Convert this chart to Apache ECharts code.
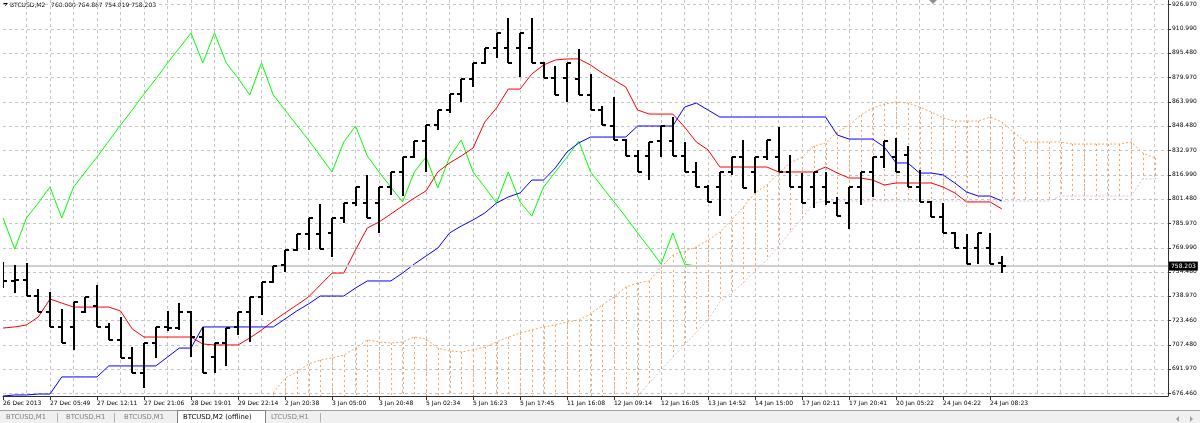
<!DOCTYPE html>
<html><head><meta charset="utf-8">
<script src="https://cdn.jsdelivr.net/npm/echarts@6/dist/echarts.min.js"></script>
<style>html,body{margin:0;padding:0;background:#fff}#c{width:1200px;height:423px}</style>
</head><body><div id="c"></div>
<script>
const symbolName = 'BTCUSD,M2';
const lastOHLC = [760.000, 764.867, 754.019, 758.203];

const barOpen = [755.7,748.6,749.2,738.9,728.6,719.0,719.0,728.6,732.5,719.0,
710.6,699.0,689.3,708.7,719.0,718.3,728.6,712.5,699.6,708.7,
719.0,728.6,738.3,747.9,758.9,768.6,778.9,778.9,779.5,789.2,
798.8,798.8,798.8,809.1,818.8,828.4,838.7,849.0,858.7,869.0,
878.7,889.0,898.6,898.6,898.6,898.6,889.0,879.3,879.3,878.7,
868.4,858.7,848.4,839.4,829.1,829.1,838.7,838.7,829.1,818.8,
809.1,809.1,818.8,828.4,818.8,828.4,828.4,818.8,809.1,809.1,
809.1,798.8,798.8,809.1,818.8,828.4,828.4,829.7,809.1,799.5,
789.8,779.5,769.8,769.8,769.8,760.000];
const barHigh = [760.8,759.0,760.2,743.4,741.5,730.6,735.1,738.3,746.0,721.5,
725.4,706.1,708.7,719.0,729.3,734.4,729.3,719.0,708.7,718.3,
728.6,738.3,747.9,758.3,768.6,778.9,789.2,798.2,789.2,798.8,
809.1,816.9,809.1,818.8,828.4,838.7,849.0,858.7,869.0,878.7,
889.0,898.6,908.3,918.0,908.3,918.0,889.6,887.0,889.0,898.0,
881.9,861.3,867.1,840.0,833.0,838.1,848.4,854.2,838.1,825.2,
810.4,818.8,828.4,839.4,828.4,839.4,847.8,829.7,818.1,818.8,
818.8,802.7,809.1,818.8,828.4,838.7,840.7,835.5,820.1,800.1,
798.8,780.1,778.9,779.5,779.5,764.867];
const barLow = [744.1,740.9,738.9,728.6,719.0,708.7,704.2,728.0,719.0,710.6,
699.0,689.3,679.7,699.0,716.4,717.0,699.6,689.3,689.3,693.9,
713.8,709.3,726.7,747.3,754.4,767.9,768.6,769.2,764.0,785.9,
796.9,789.2,779.5,804.0,803.3,827.8,818.8,845.8,856.8,863.9,
873.5,888.3,892.2,889.0,880.0,889.0,879.3,868.4,863.9,868.4,
858.7,849.0,839.4,829.1,818.8,813.6,828.4,829.1,818.8,809.1,
799.5,790.4,816.9,808.5,805.3,826.5,818.8,809.1,798.8,795.6,
797.5,790.4,782.1,797.5,802.7,821.4,818.8,809.1,799.5,789.8,
779.5,769.8,759.5,759.5,759.5,754.019];
const barClose = [748.6,749.2,738.9,728.6,719.0,708.7,735.1,738.3,719.0,710.6,
699.0,689.3,708.7,719.0,718.3,728.6,712.5,689.3,708.7,718.3,
728.6,738.3,747.9,758.3,768.6,778.9,789.2,769.2,789.2,798.8,
809.1,789.2,809.1,818.8,828.4,838.7,849.0,858.7,869.0,878.7,
889.0,898.6,908.3,889.0,908.3,889.0,879.3,868.4,889.0,868.4,
858.7,849.0,839.4,829.1,818.8,838.1,848.4,829.1,818.8,809.1,
799.5,818.8,828.4,808.5,828.4,839.4,818.8,809.1,798.8,818.8,
799.5,790.4,809.1,818.8,828.4,838.7,818.8,809.1,799.5,789.8,
779.5,769.8,759.5,779.5,759.5,758.203];

const tenkan = [718.3,719.0,720.3,725.4,737.0,734.4,731.8,731.8,731.8,731.8,
729.3,717.7,712.5,712.5,712.5,712.5,712.5,708.0,707.4,707.4,
707.4,711.9,717.0,722.8,728.0,733.1,738.3,746.0,753.7,753.7,
768.6,782.7,786.6,791.7,796.9,802.0,806.6,818.8,824.6,829.1,
834.2,851.0,860.0,872.2,872.2,881.9,887.7,890.9,891.6,891.6,
887.7,882.5,878.0,873.5,858.7,856.1,856.1,856.1,847.8,838.1,
833.0,822.0,822.0,822.0,822.0,822.0,818.8,818.8,818.8,818.8,
822.0,818.1,814.9,814.9,813.6,810.4,811.7,811.7,811.7,811.7,
809.1,805.3,799.5,799.5,799.5,795.0];
const kijun = [674.5,675.2,675.2,675.8,675.8,686.8,686.8,686.8,686.8,693.9,
693.9,693.9,693.9,693.9,699.6,705.4,705.4,719.0,719.0,719.0,
719.0,719.0,719.0,719.0,724.1,729.3,733.8,738.9,738.9,738.9,
744.1,748.6,748.6,748.6,753.7,759.5,764.7,769.8,779.5,784.0,
787.9,792.4,798.8,802.7,805.3,813.6,813.6,821.4,831.7,837.5,
841.3,841.3,841.3,841.3,848.4,848.4,848.4,848.4,860.6,863.2,
858.7,854.2,854.2,854.2,854.2,854.2,854.2,854.2,854.2,854.2,
854.2,842.6,840.0,840.0,840.0,834.9,824.6,824.6,818.1,818.1,
816.9,811.7,805.9,803.3,803.3,800.1];
const chikou = [789.2,769.2,789.2,798.8,809.1,789.2,809.1,818.8,828.4,838.7,
849.0,858.7,869.0,878.7,889.0,898.6,908.3,889.0,908.3,889.0,
879.3,868.4,889.0,868.4,858.7,849.0,839.4,829.1,818.8,838.1,
848.4,829.1,818.8,809.1,799.5,818.8,828.4,808.5,828.4,839.4,
818.8,809.1,798.8,818.8,799.5,790.4,809.1,818.8,828.4,838.7,
818.8,809.1,799.5,789.8,779.5,769.8,759.5,779.5,759.5,758.2];
const spanA = [null,null,null,null,null,null,null,null,null,null,
null,null,null,null,null,null,null,null,null,null,
null,null,null,676.5,686.1,690.0,695.1,697.7,699.0,700.9,
705.4,710.6,709.3,708.7,709.3,712.5,711.2,705.4,703.5,702.9,
704.2,706.1,709.3,712.5,715.1,717.0,719.0,720.3,722.2,723.5,
727.3,733.1,738.3,744.7,747.3,748.6,757.6,765.3,767.9,770.5,
775.0,780.1,787.9,796.2,805.3,810.4,818.1,824.6,828.4,835.5,
837.5,844.5,849.0,855.5,860.0,862.6,863.9,863.2,860.6,857.4,
853.6,851.6,851.6,851.6,854.2,851.0,844.5,838.1,838.1,838.1,
838.1,836.8,836.8,836.8,836.8,836.8,838.1,831.0,827.8];
const spanB = [null,null,null,null,null,null,null,null,null,null,
null,null,null,null,null,null,null,null,null,null,
null,null,null,null,null,null,null,null,null,null,
null,null,null,null,null,null,null,null,null,null,
null,null,null,null,null,null,null,null,null,null,
null,null,null,null,674.5,682.9,691.3,699.6,707.4,715.7,
723.5,735.1,740.9,747.3,755.0,762.1,771.1,780.1,789.2,798.8,
800.1,800.1,800.1,800.1,800.1,800.1,800.1,800.1,800.1,800.1,
800.1,800.1,800.1,800.1,800.1,800.1,800.1,800.1,800.1,800.1,
803.3,803.3,803.3,803.3,803.3,803.3,803.3,814.3,814.3];

const yTickValues = [676.46,691.97,707.48,723.46,738.97,754.48,769.99,785.97,801.48,816.99,832.97,848.48,863.99,879.97,895.48,910.99,926.97];
const xTickBars = [0,4,8,12,16,20,24,28,32,36,40,44,48,52,56,60,64,68,72,76,80,84];
const xTickLabels = ['26 Dec 2013','27 Dec 05:49','27 Dec 12:11','27 Dec 21:06','28 Dec 19:01','29 Dec 22:14','2 Jan 20:38','3 Jan 05:00','3 Jan 20:48','5 Jan 02:34','5 Jan 16:23','5 Jan 17:45','11 Jan 16:08','12 Jan 09:14','12 Jan 16:05','13 Jan 14:52','14 Jan 15:00','17 Jan 02:11','17 Jan 20:41','20 Jan 05:22','24 Jan 04:22','24 Jan 08:23'];
const tabNames = ['BTCUSD,M1','BTCUSD,H1','BTCUSD,M1','BTCUSD,M2 (offline)','LTCUSD,H1'];
const activeTab = 3;

const Y_MIN = 674.53, Y_MAX = 929.55, X_MIN = 0, X_MAX = 99.14;
const FONT = 'DejaVu Sans';
const gridBars = []; for (let i = 2; i <= 98; i += 2) gridBars.push(i);
const pairs = arr => arr.map((v, i) => [i, v]);

const ohlcData = barOpen.map((o, i) => [i, o, barHigh[i], barLow[i], barClose[i]]);
const hatchData = [];
spanA.forEach((a, i) => { if (a != null) hatchData.push([i, a, spanB[i] == null ? Y_MIN : spanB[i]]); });

function hatchRender(params, api) {
  const i = api.value(0);
  const pa = api.coord([i, api.value(1)]);
  const pb = api.coord([i, api.value(2)]);
  const x = Math.round(pa[0]) + 0.5;
  const col = api.value(1) >= api.value(2) ? '#F4A460' : '#D8BFD8';
  return { type: 'line', shape: { x1: x, y1: pa[1], x2: x, y2: pb[1] },
    style: { stroke: col, lineWidth: 1, lineDash: [2, 3] } };
}
function barRender(params, api) {
  const i = api.value(0);
  const pO = api.coord([i, api.value(1)]);
  const pH = api.coord([i, api.value(2)]);
  const pL = api.coord([i, api.value(3)]);
  const pC = api.coord([i, api.value(4)]);
  const x = Math.round(pO[0]);
  const st = { stroke: '#000', lineWidth: 2 };
  const yo = Math.round(pO[1]), yc = Math.round(pC[1]);
  return { type: 'group', children: [
    { type: 'line', shape: { x1: x, y1: Math.round(pH[1]), x2: x, y2: Math.round(pL[1]) }, style: st },
    { type: 'line', shape: { x1: x - 4, y1: yo, x2: x, y2: yo }, style: st },
    { type: 'line', shape: { x1: x, y1: yc, x2: x + 4, y2: yc }, style: st }
  ]};
}

const tabX = [6, 66, 124, 183, 271];
const graphics = [
  { type: 'polygon', shape: { points: [[3, 3], [8, 3], [5.5, 6]] }, style: { fill: '#000' } },
  { type: 'text', x: 10, y: 5, style: { text: symbolName + '   ' + lastOHLC.map(v => v.toFixed(3)).join(' '), font: '6px "DejaVu Sans"', fill: '#000', verticalAlign: 'middle' } },
  { type: 'polygon', shape: { points: [[929, 0], [937, 0], [933, 4]] }, style: { fill: '#909090' } },
  { type: 'rect', shape: { x: 0, y: 411, width: 1200, height: 12 }, style: { fill: '#f0f0f0' } },
  { type: 'line', shape: { x1: 0, y1: 410.5, x2: 1200, y2: 410.5 }, style: { stroke: '#a0a0a0', lineWidth: 1 } },
  { type: 'rect', shape: { x: 177.5, y: 410.5, width: 88, height: 13 }, style: { fill: '#fff', stroke: '#808080', lineWidth: 1 } },
  { type: 'polygon', shape: { points: [[1179, 416], [1179, 422], [1176, 419]] }, style: { fill: '#a0a0a0' } },
  { type: 'polygon', shape: { points: [[1190, 416], [1190, 422], [1193, 419]] }, style: { fill: '#a0a0a0' } }
];
tabNames.forEach((t, k) => graphics.push({ type: 'text', x: tabX[k], y: 417.5,
  style: { text: t, font: '6.8px "DejaVu Sans"', fill: k === activeTab ? '#000' : '#808080', verticalAlign: 'middle' } }));
[57, 114, 320].forEach(x => graphics.push({ type: 'line', shape: { x1: x + 0.5, y1: 413, x2: x + 0.5, y2: 422 }, style: { stroke: '#b0b0b0', lineWidth: 1 } }));

const chart = echarts.init(document.getElementById('c'), null, { renderer: 'canvas', width: 1200, height: 423 });
chart.setOption({
  animation: false,
  backgroundColor: '#fff',
  grid: { left: -0.8, right: 32, top: 0, bottom: 27, show: false },
  xAxis: [
    { type: 'value', min: X_MIN, max: X_MAX, position: 'bottom',
      axisLine: { show: true, onZero: false, lineStyle: { color: '#303030', width: 1 } },
      axisTick: { show: true, customValues: xTickBars, length: 4, lineStyle: { color: '#303030' } },
      axisLabel: { show: true, customValues: xTickBars, align: 'left', margin: 4, fontFamily: FONT, fontSize: 6, color: '#000',
        formatter: v => { const k = xTickBars.indexOf(Math.round(v)); return k >= 0 ? xTickLabels[k] : ''; } },
      splitLine: { show: false } },
    { type: 'value', min: X_MIN, max: X_MAX, position: 'top',
      axisLine: { show: false }, axisTick: { show: false, customValues: gridBars }, axisLabel: { show: false, customValues: gridBars },
      splitLine: { show: true, lineStyle: { color: '#c4c4c4', type: [3, 3], width: 1 } } }
  ],
  yAxis: { type: 'value', position: 'right', min: Y_MIN, max: Y_MAX,
    axisLine: { show: true, onZero: false, lineStyle: { color: '#303030', width: 1 } },
    axisTick: { show: true, customValues: yTickValues, length: 3, lineStyle: { color: '#303030' } },
    axisLabel: { show: true, customValues: yTickValues, formatter: v => v.toFixed(3), margin: 4, fontFamily: FONT, fontSize: 6, color: '#000' },
    splitLine: { show: true, lineStyle: { color: '#c4c4c4', type: [3, 3], width: 1 } } },
  series: [
    { type: 'custom', name: 'Cloud', renderItem: hatchRender, data: hatchData, encode: { x: 0, y: [1, 2] }, clip: true, silent: true, z: 1 },
    { type: 'line', name: 'Senkou Span A', data: pairs(spanA), symbol: 'none', silent: true, z: 2,
      lineStyle: { color: '#F4A460', width: 1, type: [2, 2] },
      markLine: { silent: true, symbol: 'none', animation: false, precision: 3,
        lineStyle: { color: '#cfcfcf', type: 'solid', width: 2 },
        label: { show: true, position: 'end', distance: 1, formatter: () => lastOHLC[3].toFixed(3), backgroundColor: '#000', color: '#fff',
          fontFamily: FONT, fontSize: 6, padding: [2, 2, 1, 2] },
        data: [{ yAxis: lastOHLC[3] }] } },
    { type: 'line', name: 'Senkou Span B', data: pairs(spanB), symbol: 'none', silent: true, z: 2,
      lineStyle: { color: '#D8BFD8', width: 1, type: [2, 2] } },
    { type: 'line', name: 'Chikou Span', data: pairs(chikou), symbol: 'none', silent: true, z: 3,
      lineStyle: { color: '#00ff00', width: 1 } },
    { type: 'line', name: 'Tenkan-sen', data: pairs(tenkan), symbol: 'none', silent: true, z: 3,
      lineStyle: { color: '#ff0000', width: 1 } },
    { type: 'line', name: 'Kijun-sen', data: pairs(kijun), symbol: 'none', silent: true, z: 3,
      lineStyle: { color: '#0000ff', width: 1 } },
    { type: 'custom', name: symbolName, renderItem: barRender, data: ohlcData, encode: { x: 0, y: [1, 2, 3, 4] }, clip: true, silent: true, z: 5 }
  ],
  graphic: graphics
});
</script></body></html>
